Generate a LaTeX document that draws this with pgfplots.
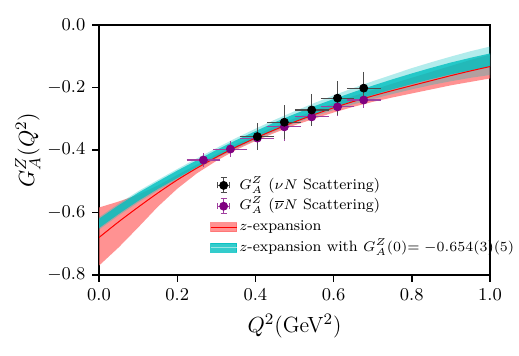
\documentclass[border=0pt]{standalone}
\usepackage{pgfplots}
\pgfplotsset{compat=1.18}
\usepgfplotslibrary{fillbetween}
\usepackage{pgfplotstable}

\definecolor{tealc}{RGB}{0,191,191}
\definecolor{redband}{RGB}{255,110,110}
\definecolor{purp}{RGB}{128,0,128}

\pgfplotstableread{
x    rc     rhi    rlo    tc     dhi    dlo    lhi    llo
0.00 -0.680 -0.584 -0.770 -0.635 -0.620 -0.650 -0.615 -0.655
0.05 -0.630 -0.565 -0.712 -0.591 -0.577 -0.605 -0.572 -0.610
0.10 -0.583 -0.543 -0.648 -0.550 -0.537 -0.563 -0.532 -0.568
0.15 -0.538 -0.514 -0.582 -0.513 -0.501 -0.525 -0.496 -0.530
0.20 -0.496 -0.480 -0.524 -0.478 -0.466 -0.490 -0.461 -0.495
0.25 -0.458 -0.447 -0.475 -0.444 -0.433 -0.455 -0.427 -0.460
0.30 -0.423 -0.414 -0.435 -0.411 -0.400 -0.422 -0.394 -0.427
0.35 -0.391 -0.382 -0.400 -0.380 -0.369 -0.391 -0.362 -0.396
0.40 -0.362 -0.353 -0.371 -0.351 -0.340 -0.362 -0.332 -0.368
0.45 -0.335 -0.325 -0.345 -0.323 -0.311 -0.335 -0.303 -0.340
0.50 -0.310 -0.299 -0.321 -0.297 -0.285 -0.309 -0.276 -0.315
0.55 -0.287 -0.274 -0.300 -0.273 -0.260 -0.286 -0.250 -0.293
0.60 -0.265 -0.250 -0.280 -0.250 -0.237 -0.263 -0.225 -0.272
0.65 -0.245 -0.228 -0.262 -0.229 -0.215 -0.243 -0.202 -0.254
0.70 -0.227 -0.208 -0.246 -0.209 -0.194 -0.224 -0.180 -0.237
0.75 -0.210 -0.188 -0.232 -0.190 -0.174 -0.206 -0.159 -0.221
0.80 -0.194 -0.169 -0.219 -0.172 -0.155 -0.189 -0.138 -0.206
0.85 -0.178 -0.150 -0.206 -0.155 -0.137 -0.173 -0.119 -0.192
0.90 -0.162 -0.131 -0.193 -0.139 -0.120 -0.158 -0.101 -0.180
0.95 -0.147 -0.112 -0.182 -0.125 -0.105 -0.145 -0.084 -0.169
1.00 -0.133 -0.095 -0.171 -0.112 -0.091 -0.133 -0.069 -0.160
}\curves

\pgfplotstableread{
x     y      ex    ey
0.405 -0.357 0.035 0.032
0.474 -0.311 0.035 0.044
0.544 -0.272 0.035 0.040
0.610 -0.234 0.035 0.043
0.677 -0.202 0.035 0.042
}\nuN

\pgfplotstableread{
x     y      ex    ey
0.267 -0.432 0.035 0.012
0.336 -0.397 0.035 0.015
0.405 -0.362 0.035 0.020
0.474 -0.326 0.035 0.035
0.544 -0.294 0.035 0.018
0.610 -0.262 0.035 0.018
0.677 -0.240 0.035 0.015
}\nubarN

\begin{document}
\begin{tikzpicture}
\begin{axis}[
  at={(0,0)}, anchor=south west,
  scale only axis, width=195.5pt, height=125pt,
  xmin=0, xmax=1, ymin=-0.8, ymax=0,
  xtick={0,0.2,0.4,0.6,0.8,1.0},
  ytick={-0.8,-0.6,-0.4,-0.2,0},
  x tick label style={/pgf/number format/.cd, fixed, fixed zerofill, precision=1, /tikz/.cd},
  y tick label style={/pgf/number format/.cd, fixed, fixed zerofill, precision=1, /tikz/.cd},
  tick align=outside, tick pos=left, major tick length=3.3pt,
  tick style={black, line width=0.7pt},
  axis line style={line width=0.8pt},
  ticklabel style={font=\fontsize{9.3}{10}\selectfont},
  xlabel={$Q^2$(GeV$^2$)}, ylabel={$G_A^Z(Q^2)$},
  ylabel style={at={(axis description cs:-0.182,0.5)}, anchor=center},
  label style={font=\fontsize{11}{12}\selectfont},
  legend style={draw=none, fill=none, at={(0.283,0.07)}, anchor=south west,
    font=\fontsize{7.5}{8}\selectfont, inner sep=0pt, row sep=1.1pt,
    nodes={inner sep=1pt, text height=5.5pt, text depth=1.8pt}},
  legend cell align=left,
]
\addplot[name path=rhi, draw=none, forget plot] table[x=x,y=rhi]{\curves};
\addplot[name path=rlo, draw=none, forget plot] table[x=x,y=rlo]{\curves};
\addplot[fill=redband, fill opacity=0.75, draw=none, forget plot] fill between[of=rhi and rlo];

\addplot[name path=lhi, draw=none, forget plot] table[x=x,y=lhi]{\curves};
\addplot[name path=llo, draw=none, forget plot] table[x=x,y=llo]{\curves};
\addplot[fill=tealc, fill opacity=0.3, draw=none, forget plot] fill between[of=lhi and llo];

\addplot[name path=dhi, draw=none, forget plot] table[x=x,y=dhi]{\curves};
\addplot[name path=dlo, draw=none, forget plot] table[x=x,y=dlo]{\curves};
\addplot[fill=tealc, fill opacity=0.8, draw=none, forget plot] fill between[of=dhi and dlo];

\addplot[red, line width=0.5pt, smooth, forget plot] table[x=x,y=rc]{\curves};

\addplot[only marks, mark=*, mark size=2pt, purp, forget plot,
  error bars/.cd, x dir=both, x explicit, y dir=both, y explicit,
  error bar style={purp!75, line width=0.55pt},
  error mark options={purp!75, mark size=1.6pt, line width=0.55pt}]
  table[x=x, y=y, x error=ex, y error=ey]{\nubarN};

\addplot[only marks, mark=*, mark size=2pt, black, forget plot,
  error bars/.cd, x dir=both, x explicit, y dir=both, y explicit,
  error bar style={black!70, line width=0.55pt},
  error mark options={black!70, mark size=1.6pt, line width=0.55pt}]
  table[x=x, y=y, x error=ex, y error=ey]{\nuN};

\addlegendimage{legend image code/.code={
  \draw[black!70, line width=0.5pt] (6.5pt,-3.75pt) -- (6.5pt,3.75pt) (3.5pt,0pt) -- (9.5pt,0pt)
    (5pt,-3.75pt) -- (8pt,-3.75pt) (5pt,3.75pt) -- (8pt,3.75pt)
    (3.5pt,-1.5pt) -- (3.5pt,1.5pt) (9.5pt,-1.5pt) -- (9.5pt,1.5pt);
  \fill[black] (6.5pt,0pt) circle (2pt);}}
\addlegendentry{$G_A^Z$ ($\nu N$ Scattering)}
\addlegendimage{legend image code/.code={
  \draw[purp!75, line width=0.5pt] (6.5pt,-3.75pt) -- (6.5pt,3.75pt) (3.5pt,0pt) -- (9.5pt,0pt)
    (5pt,-3.75pt) -- (8pt,-3.75pt) (5pt,3.75pt) -- (8pt,3.75pt)
    (3.5pt,-1.5pt) -- (3.5pt,1.5pt) (9.5pt,-1.5pt) -- (9.5pt,1.5pt);
  \fill[purp] (6.5pt,0pt) circle (2pt);}}
\addlegendentry{$G_A^Z$ ($\overline{\nu} N$ Scattering)}
\addlegendimage{legend image code/.code={
  \fill[redband, opacity=0.75] (0pt,-2.25pt) rectangle (13pt,2.25pt);
  \draw[red, line width=0.5pt] (0pt,0pt) -- (13pt,0pt);}}
\addlegendentry{$z$-expansion}
\addlegendimage{legend image code/.code={
  \fill[tealc, opacity=0.8] (0pt,-2.25pt) rectangle (13pt,2.25pt);
  \draw[tealc!40!white, line width=0.6pt] (0pt,0pt) -- (13pt,0pt);}}
\addlegendentry{$z$-expansion with $G_A^Z(0){=}\;{-}0.654(3)(5)$}
\end{axis}
\pgfresetboundingbox
\useasboundingbox (-49.5pt,-40pt) rectangle (210pt,137.5pt);
\end{tikzpicture}
\end{document}
